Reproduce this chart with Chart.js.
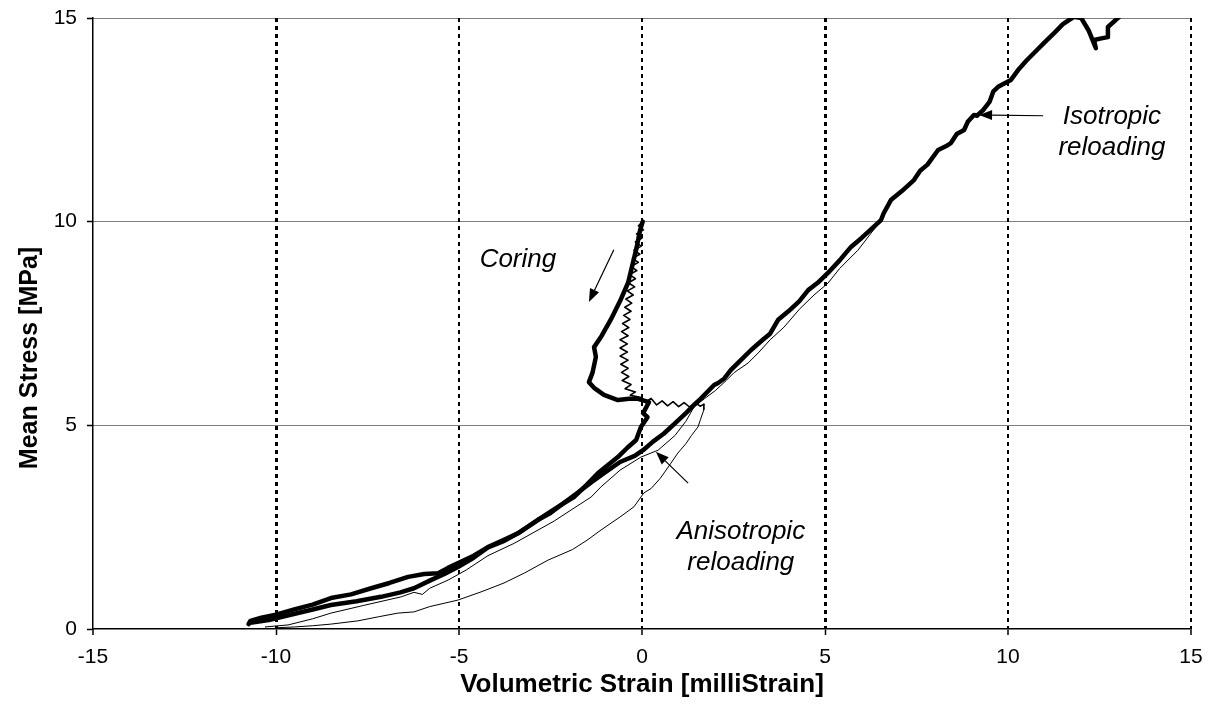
<!DOCTYPE html>
<html>
<head>
<meta charset="utf-8">
<script src="https://cdn.jsdelivr.net/npm/chart.js@4.4.1/dist/chart.umd.min.js"></script>
<style>
  html, body { margin: 0; padding: 0; background: #fff; }
  #wrap { width: 1216px; height: 721px; }
</style>
</head>
<body>
<div id="wrap"><canvas id="stressChart"></canvas></div>
<script>
// axis ticks
const xTicks = [-15, -10, -5, 0, 5, 10, 15];
const yTicks = [0, 5, 10, 15];

// coring from 10 MPa, then unloading to the left (thick)
const coringUnload = [
  [0.02, 10.0], [-0.05, 9.8], [-0.15, 9.35], [-0.38, 8.5], [-0.6, 8.05], [-0.85, 7.6],
  [-1.1, 7.2], [-1.31, 6.92], [-1.26, 6.68], [-1.35, 6.3], [-1.45, 6.06], [-1.31, 5.92],
  [-1.04, 5.75], [-0.66, 5.62], [-0.35, 5.65], [-0.11, 5.65], [0.19, 5.57], [0.12, 5.45],
  [0.03, 5.3], [0.15, 5.2], [-0.03, 4.96], [-0.16, 4.64], [-0.4, 4.45], [-0.66, 4.22],
  [-1.2, 3.83], [-1.5, 3.55], [-1.86, 3.24], [-2.13, 3.09], [-2.5, 2.88], [-2.84, 2.68],
  [-3.39, 2.35], [-3.8, 2.18], [-4.21, 2.01], [-4.6, 1.8], [-4.95, 1.65], [-5.3, 1.5],
  [-5.57, 1.37], [-5.95, 1.35], [-6.39, 1.28], [-6.9, 1.13], [-7.4, 1.0], [-7.95, 0.85],
  [-8.5, 0.76], [-9.0, 0.6], [-9.5, 0.48], [-10.0, 0.35], [-10.4, 0.28], [-10.7, 0.2],
  [-10.75, 0.12]
];

// isotropic reloading (thick)
const isoReload = [
  [-10.7, 0.15], [-10.2, 0.22], [-9.6, 0.35], [-9.0, 0.48], [-8.5, 0.59], [-7.8, 0.68],
  [-7.13, 0.79], [-6.6, 0.9], [-6.23, 1.0], [-5.77, 1.2], [-5.4, 1.35], [-5.03, 1.52],
  [-4.6, 1.75], [-4.21, 2.0], [-3.8, 2.15], [-3.39, 2.35], [-2.84, 2.68], [-2.5, 2.85],
  [-2.13, 3.1], [-1.75, 3.35], [-1.39, 3.6], [-1.0, 3.85], [-0.6, 4.1], [-0.2, 4.25],
  [0.03, 4.39], [0.3, 4.6], [0.6, 4.8], [0.9, 5.05], [1.2, 5.3], [1.42, 5.5],
  [1.6, 5.65], [1.97, 5.99], [2.08, 6.04], [2.25, 6.15], [2.43, 6.36], [2.7, 6.6],
  [2.98, 6.85], [3.3, 7.1], [3.5, 7.25], [3.72, 7.59], [4.0, 7.8], [4.3, 8.05],
  [4.54, 8.32], [4.8, 8.5], [5.08, 8.74], [5.4, 9.05], [5.71, 9.38], [6.0, 9.6],
  [6.3, 9.85], [6.53, 10.04], [6.6, 10.2], [6.8, 10.53], [7.1, 10.75], [7.43, 11.02],
  [7.6, 11.25], [7.8, 11.4], [8.09, 11.76], [8.3, 11.85], [8.44, 11.93], [8.6, 12.15],
  [8.8, 12.25], [8.9, 12.45], [9.07, 12.62], [9.15, 12.6], [9.32, 12.74], [9.5, 12.95],
  [9.6, 13.2], [9.73, 13.31], [10.08, 13.48], [10.3, 13.75], [10.5, 13.95], [10.71, 14.14],
  [11.0, 14.4], [11.26, 14.63], [11.5, 14.85], [11.8, 15.03], [12.0, 15.0], [12.2, 14.7],
  [12.4, 14.26], [12.35, 14.46], [12.55, 14.5], [12.73, 14.53], [12.73, 14.78], [13.09, 15.07]
];

// thin test: noisy coring branch from 10 MPa
const noisyCoring = [
  [0.02, 10.0], [-0.1, 9.9], [0.04, 9.8], [-0.15, 9.7], [0.0, 9.6], [-0.18, 9.5],
  [-0.02, 9.4], [-0.22, 9.3], [-0.06, 9.2], [-0.26, 9.1], [-0.1, 9.0], [-0.3, 8.9],
  [-0.14, 8.8], [-0.34, 8.7], [-0.18, 8.6], [-0.37, 8.5], [-0.2, 8.4], [-0.4, 8.3],
  [-0.24, 8.2], [-0.44, 8.1], [-0.28, 8.0], [-0.47, 7.9], [-0.3, 7.8], [-0.5, 7.7],
  [-0.33, 7.6], [-0.53, 7.5], [-0.36, 7.4], [-0.56, 7.3], [-0.38, 7.2], [-0.6, 7.1],
  [-0.4, 7.0], [-0.6, 6.9], [-0.4, 6.8], [-0.6, 6.7], [-0.38, 6.6], [-0.58, 6.5],
  [-0.38, 6.4], [-0.56, 6.3], [-0.36, 6.2], [-0.54, 6.1], [-0.3, 6.0], [-0.46, 5.9],
  [-0.18, 5.82], [-0.32, 5.74], [-0.02, 5.68], [0.1, 5.58], [0.25, 5.66], [0.4, 5.5],
  [0.55, 5.6], [0.7, 5.48], [0.85, 5.58], [1.0, 5.46], [1.15, 5.56], [1.3, 5.45],
  [1.45, 5.55], [1.6, 5.47], [1.69, 5.52]
];

// thin test: anisotropic loop back down to the origin side
const anisoLoop = [
  [1.69, 5.52], [1.69, 5.38], [1.6, 5.15], [1.53, 4.96], [1.35, 4.75], [1.2, 4.55],
  [0.98, 4.32], [0.79, 4.07], [0.5, 3.7], [0.25, 3.45], [0.05, 3.34], [-0.22, 3.0],
  [-0.6, 2.75], [-1.12, 2.43], [-1.5, 2.18], [-1.9, 1.95], [-2.57, 1.69], [-3.2, 1.38],
  [-3.77, 1.13], [-4.4, 0.91], [-5.03, 0.71], [-5.8, 0.55], [-6.23, 0.42], [-6.67, 0.39],
  [-7.2, 0.3], [-7.76, 0.2], [-8.5, 0.12], [-9.0, 0.08], [-9.5, 0.05], [-10.0, 0.03]
];

// thin test: reloading just under the thick curve
const anisoReload = [
  [-10.3, 0.05], [-9.67, 0.1], [-9.0, 0.25], [-8.5, 0.39], [-7.6, 0.58], [-6.58, 0.79],
  [-6.23, 0.9], [-6.0, 0.85], [-5.8, 1.0], [-5.3, 1.2], [-4.8, 1.45], [-4.21, 1.8],
  [-3.5, 2.1], [-2.84, 2.43], [-2.4, 2.65], [-1.94, 2.92], [-1.39, 3.24], [-1.12, 3.49],
  [-0.6, 3.9], [-0.03, 4.22], [0.44, 4.39], [0.9, 4.75], [1.2, 5.1], [1.42, 5.45],
  [1.7, 5.65], [2.0, 5.85], [2.3, 6.1], [2.51, 6.29], [2.9, 6.53], [3.2, 6.8],
  [3.5, 7.1], [3.88, 7.41], [4.3, 7.85], [4.7, 8.2], [5.08, 8.49], [5.4, 8.85],
  [5.9, 9.3], [6.26, 9.72], [6.6, 10.1]
];

// labels with arrows, in data units
const notes = [
  { lines: ['Coring'], x: -3.39, y: 9.06, from: [-0.77, 9.31], to: [-1.45, 8.03] },
  { lines: ['Anisotropic', 'reloading'], x: 2.7, y: 2.0, from: [1.26, 3.58], to: [0.38, 4.35] },
  { lines: ['Isotropic', 'reloading'], x: 12.84, y: 12.2, from: [10.96, 12.6], to: [9.21, 12.62] }
];

const FONT = 'Arial, "Liberation Sans", sans-serif';

function toPts(arr) {
  return arr.map(p => ({ x: p[0], y: p[1] }));
}

function line(data, width) {
  return {
    data: toPts(data),
    showLine: true,
    borderColor: '#000',
    borderWidth: width,
    pointRadius: 0,
    tension: 0,
    borderJoinStyle: 'round',
    borderCapStyle: 'round'
  };
}

const notesPlugin = {
  id: 'notes',
  afterDatasetsDraw(chart) {
    const ctx = chart.ctx;
    const xs = chart.scales.x, ys = chart.scales.y;
    ctx.save();
    ctx.fillStyle = '#000';
    ctx.strokeStyle = '#000';
    ctx.font = 'italic 26px ' + FONT;
    ctx.textAlign = 'center';
    ctx.textBaseline = 'middle';
    notes.forEach(n => {
      const cx = xs.getPixelForValue(n.x), cy = ys.getPixelForValue(n.y);
      const lh = 31;
      const y0 = cy - (n.lines.length - 1) * lh / 2;
      n.lines.forEach((t, i) => ctx.fillText(t, cx, y0 + i * lh));
      const x1 = xs.getPixelForValue(n.from[0]), y1 = ys.getPixelForValue(n.from[1]);
      const x2 = xs.getPixelForValue(n.to[0]), y2 = ys.getPixelForValue(n.to[1]);
      const a = Math.atan2(y2 - y1, x2 - x1);
      const hl = 13, hw = 5;
      const bx = x2 - hl * Math.cos(a), by = y2 - hl * Math.sin(a);
      ctx.lineWidth = 1.2;
      ctx.beginPath();
      ctx.moveTo(x1, y1);
      ctx.lineTo(bx, by);
      ctx.stroke();
      ctx.beginPath();
      ctx.moveTo(x2, y2);
      ctx.lineTo(bx + hw * Math.sin(a), by - hw * Math.cos(a));
      ctx.lineTo(bx - hw * Math.sin(a), by + hw * Math.cos(a));
      ctx.closePath();
      ctx.fill();
    });

    // y axis title sits a bit below the middle of the plot, as in the original
    ctx.font = 'bold 25px ' + FONT;
    ctx.translate(30, 358);
    ctx.rotate(-Math.PI / 2);
    ctx.fillText('Mean Stress [MPa]', 0, 0);
    ctx.restore();
  }
};

new Chart(document.getElementById('stressChart'), {
  type: 'scatter',
  data: {
    datasets: [
      line(noisyCoring, 1.6),
      line(anisoLoop, 1),
      line(anisoReload, 1),
      line(coringUnload, 4.5),
      line(isoReload, 4.5)
    ]
  },
  options: {
    responsive: true,
    maintainAspectRatio: false,
    animation: false,
    layout: { padding: { left: 0, top: 18, right: 25, bottom: 0 } },
    plugins: {
      legend: { display: false },
      tooltip: { enabled: false }
    },
    scales: {
      x: {
        type: 'linear',
        min: xTicks[0],
        max: xTicks[xTicks.length - 1],
        afterBuildTicks(s) { s.ticks = xTicks.map(v => ({ value: v })); },
        afterFit(s) { s.height = 92; s.paddingLeft = 0; s.paddingRight = 0; },
        ticks: { color: '#000', font: { family: FONT, size: 21 }, padding: 10, maxRotation: 0 },
        grid: {
          color: c => (c.tick && c.tick.value === -15) ? 'rgba(0,0,0,0)' : '#000',
          lineWidth: c => (c.tick && (c.tick.value === -10 || c.tick.value === 5)) ? 3 : 2,
          drawTicks: true,
          tickLength: 6,
          tickColor: '#000',
          tickWidth: 1.5,
          tickBorderDash: []
        },
        border: { display: true, color: '#000', width: 1.5, dash: [4, 4] },
        title: {
          display: true,
          text: 'Volumetric Strain [milliStrain]',
          color: '#000',
          font: { family: FONT, size: 26, weight: 'bold' },
          padding: { top: 4, bottom: 21 }
        }
      },
      y: {
        type: 'linear',
        min: yTicks[0],
        max: yTicks[yTicks.length - 1],
        afterBuildTicks(s) { s.ticks = yTicks.map(v => ({ value: v })); },
        afterFit(s) { s.width = 93; s.paddingTop = 0; s.paddingBottom = 0; },
        ticks: { color: '#000', font: { family: FONT, size: 21 }, padding: 10 },
        grid: {
          color: c => (c.tick && c.tick.value === 0) ? 'rgba(0,0,0,0)' : '#000',
          lineWidth: 1,
          drawTicks: true,
          tickLength: 6,
          tickColor: '#000',
          tickWidth: 1.5,
          tickBorderDash: []
        },
        border: { display: true, color: '#000', width: 1.5, dash: [1, 1] },
        title: { display: false }
      }
    }
  },
  plugins: [notesPlugin]
});
</script>
</body>
</html>
